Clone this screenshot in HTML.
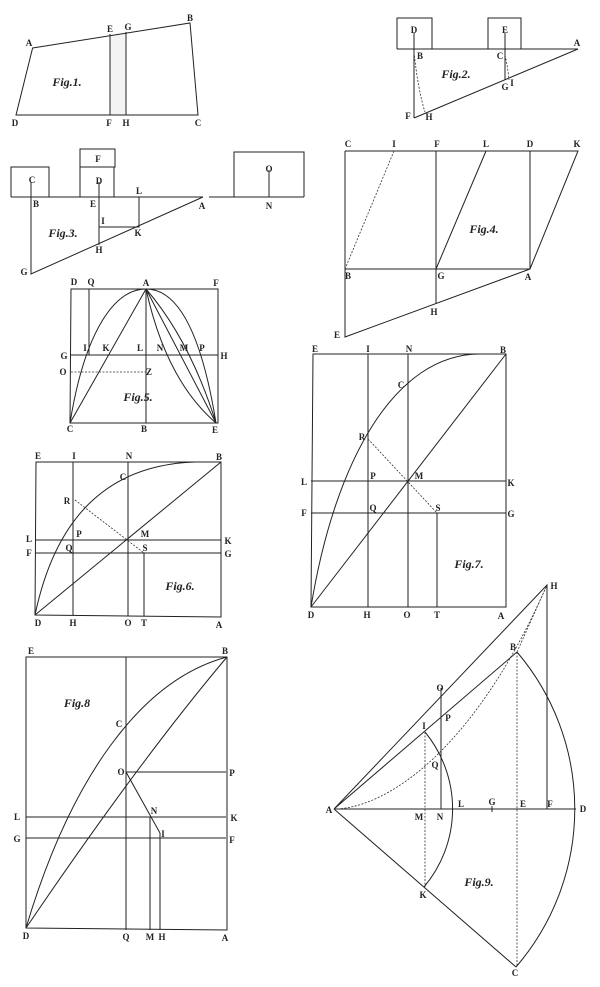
<!DOCTYPE html>
<html><head><meta charset="utf-8"><style>
html,body{margin:0;padding:0;background:#fff}
svg{display:block}
text{font-family:"Liberation Serif",serif;font-weight:bold;font-size:9px;fill:#222;text-anchor:middle;dominant-baseline:central}
text.f{font-style:italic;font-size:12px}
.l{stroke:#222;stroke-width:1;fill:none}
.d{stroke:#333;stroke-width:0.8;fill:none;stroke-dasharray:2,1.5}
</style></head><body>
<svg width="600" height="987" viewBox="0 0 600 987" xmlns="http://www.w3.org/2000/svg">
<rect width="600" height="987" fill="#fff"/>
<!-- Fig 1 -->
<polygon points="110,34 126,32 126,115 110,115" fill="#f3f3f3"/>
<path class="l" d="M32.6,48 L190,23 L198,115 L16,115 Z M110,34 V115 M126,32 V115"/>
<text x="29" y="43">A</text><text x="190" y="18">B</text><text x="110" y="29">E</text><text x="128" y="27">G</text>
<text x="15" y="123">D</text><text x="109" y="123">F</text><text x="126" y="123">H</text><text x="198" y="123">C</text>
<text class="f" x="67" y="82">Fig.1.</text>
<!-- Fig 2 -->
<path class="l" d="M397,49 V18 H432 V49 M488,49 V18 H521 V49 M397,49 H578 L414,118 M414,33 V118 M505,33 V80"/>
<path class="d" d="M414,52 Q418,90 425,112 M505,55 Q508,68 509,80"/>
<text x="414" y="30">D</text><text x="505" y="30">E</text><text x="577" y="43">A</text><text x="420" y="56">B</text><text x="500" y="56">C</text>
<text x="505" y="87">G</text><text x="512" y="83">I</text><text x="408" y="116">F</text><text x="429" y="117">H</text>
<text class="f" x="456" y="74">Fig.2.</text>
<!-- Fig 3 -->
<path class="l" d="M11,197 H203 M209,197 H304 M11,197 V167 H49 V197 M80,197 V149 H115 V167 H80 M114,167 V197 M234,197 V152 H304 V197 M269,170 V197 M31,182 V274 L203,197 M99,182 V245 M139,197 V227 H99"/>
<text x="32" y="180">C</text><text x="36" y="204">B</text><text x="98" y="159">F</text><text x="99" y="181">D</text><text x="93" y="204">E</text>
<text x="139" y="191">L</text><text x="103" y="221">I</text><text x="138" y="233">K</text><text x="99" y="250">H</text><text x="24" y="272">G</text>
<text x="202" y="206">A</text><text x="269" y="169">O</text><text x="269" y="206">N</text>
<text class="f" x="63" y="233">Fig.3.</text>
<!-- Fig 4 -->
<path class="l" d="M345,151 H578 L530,269 H345 M345,151 V337 L530,269 M436,151 V304 M530,151 V269 M486,151 L436,269"/>
<path class="d" d="M394,151 L345,269"/>
<text x="348" y="144">C</text><text x="394" y="144">I</text><text x="437" y="144">F</text><text x="486" y="144">L</text><text x="530" y="144">D</text><text x="577" y="144">K</text>
<text x="348" y="276">B</text><text x="441" y="276">G</text><text x="528" y="277">A</text><text x="434" y="312">H</text><text x="337" y="335">E</text>
<text class="f" x="484" y="229">Fig.4.</text>
<!-- Fig 5 -->
<path class="l" d="M71,289 H218 V423 H70 Z M89,289 V355 M71,355 H218 M146,289 V423 M146,289 L70,423 M146,289 L216,423"/>
<path class="l" d="M70,423 C85,330 115,289 146,289 C177,289 201,330 216,423 M146,289 Q166,380 216,423 M146,289 Q190,340 216,423"/>
<path class="d" d="M71,372 H146"/>
<text x="74" y="282">D</text><text x="91" y="282">Q</text><text x="146" y="283">A</text><text x="216" y="283">F</text>
<text x="64" y="356">G</text><text x="85" y="348">I</text><text x="106" y="348">K</text><text x="140" y="348">L</text><text x="160" y="348">N</text><text x="184" y="348">M</text><text x="202" y="348">P</text><text x="224" y="356">H</text>
<text x="63" y="372">O</text><text x="149" y="372">Z</text><text x="70" y="429">C</text><text x="144" y="429">B</text><text x="215" y="430">E</text>
<text class="f" x="138" y="397">Fig.5.</text>
<!-- Fig 6 -->
<path class="l" d="M36,462 H221 V617 L35,615 Z M73,462 V615 M128,462 V616 M144,553 V616 M35,540 H221 M35,553 H221 M35,615 L221,462"/>
<path class="l" d="M35,615 C55,520 105,465 195,462 L221,462"/>
<path class="d" d="M75,500 L144,553"/>
<text x="38" y="456">E</text><text x="74" y="456">I</text><text x="129" y="456">N</text><text x="219" y="457">B</text><text x="123" y="477">C</text><text x="67" y="501">R</text>
<text x="79" y="534">P</text><text x="145" y="534">M</text><text x="29" y="539">L</text><text x="228" y="541">K</text><text x="69" y="548">Q</text><text x="145" y="548">S</text>
<text x="29" y="553">F</text><text x="228" y="554">G</text><text x="38" y="623">D</text><text x="73" y="623">H</text><text x="128" y="623">O</text><text x="144" y="623">T</text><text x="219" y="625">A</text>
<text class="f" x="180" y="586">Fig.6.</text>
<!-- Fig 7 -->
<path class="l" d="M313,354 H506 V607 H311 Z M368,354 V607 M408,354 V607 M437,513 V607 M311,481 H506 M311,513 H506 M311,607 L506,354"/>
<path class="l" d="M311,607 C335,460 395,354 480,354 L506,354"/>
<path class="d" d="M368,439 L437,513"/>
<text x="315" y="349">E</text><text x="368" y="349">I</text><text x="409" y="349">N</text><text x="503" y="350">B</text><text x="401" y="385">C</text><text x="362" y="437">R</text>
<text x="373" y="476">P</text><text x="419" y="476">M</text><text x="304" y="482">L</text><text x="511" y="483">K</text><text x="373" y="508">Q</text><text x="438" y="508">S</text>
<text x="304" y="513">F</text><text x="511" y="514">G</text><text x="311" y="615">D</text><text x="367" y="615">H</text><text x="407" y="615">O</text><text x="437" y="615">T</text><text x="501" y="616">A</text>
<text class="f" x="469" y="564">Fig.7.</text>
<!-- Fig 8 -->
<path class="l" d="M26,657 H227 V930 L26,928 Z M126,657 V930 M126,772 H226 M26,817 H226 M26,838 H226 M150,817 V930 M160,833 V930 M126,772 L160,833"/>
<path class="l" d="M26,928 C70,780 140,680 227,657 M26,928 Q140,760 227,657"/>
<text x="31" y="651">E</text><text x="225" y="651">B</text><text class="f" x="77" y="703">Fig.8</text><text x="119" y="724">C</text><text x="121" y="772">O</text><text x="232" y="773">P</text>
<text x="154" y="811">N</text><text x="17" y="817">L</text><text x="234" y="818">K</text><text x="163" y="834">I</text><text x="17" y="839">G</text><text x="232" y="840">F</text>
<text x="26" y="936">D</text><text x="126" y="937">Q</text><text x="150" y="937">M</text><text x="162" y="937">H</text><text x="225" y="938">A</text>
<!-- Fig 9 -->
<path class="l" d="M334,809 H576 M334,809 L547,585 V809 M334,809 L517,652 M334,809 L516,967 M441,688 V809 M492,806 V812"/>
<path class="l" d="M517,652 A242,242 0 0 1 516,967 M425,732 A121,121 0 0 1 424,887"/>
<path class="d" d="M425,732 V887 M517,652 V967 M334,809 C380,809 470,760 547,585 M517,652 L547,585"/>
<text x="554" y="586">H</text><text x="513" y="647">B</text><text x="440" y="688">O</text><text x="448" y="718">P</text><text x="424" y="726">I</text><text x="435" y="765">Q</text>
<text x="461" y="804">L</text><text x="492" y="802">G</text><text x="523" y="804">E</text><text x="550" y="804">F</text><text x="583" y="809">D</text><text x="329" y="810">A</text>
<text x="419" y="817">M</text><text x="440" y="817">N</text><text x="423" y="895">K</text><text x="515" y="973">C</text>
<text class="f" x="479" y="882">Fig.9.</text>
</svg>
</body></html>
